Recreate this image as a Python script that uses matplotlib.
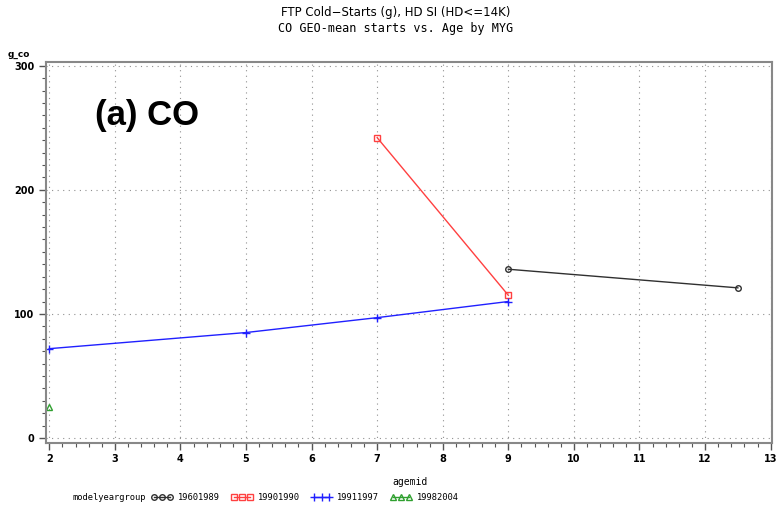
import matplotlib
matplotlib.use("Agg")
import matplotlib.pyplot as plt
from matplotlib.ticker import MultipleLocator

# data
grp_labels = ['19601989', '19901990', '19911997', '19982004']
age_6089 = [9, 12.5]
co_6089 = [136, 121]
age_9090 = [7, 9]
co_9090 = [242, 115]
age_9197 = [2, 5, 7, 9]
co_9197 = [72, 85, 97, 110]
age_9804 = [2]
co_9804 = [25]

fig = plt.figure(figsize=(7.76, 5.11), dpi=100)
ax = fig.add_axes([0.0593, 0.1331, 0.9355, 0.7456])

ax.plot(age_6089, co_6089, color='#303030', lw=1, marker='o', ms=4, mfc='none', label=grp_labels[0])
ax.plot(age_9090, co_9090, color='#ff4040', lw=1, marker='s', ms=4, mfc='none', label=grp_labels[1])
ax.plot(age_9197, co_9197, color='#2020ff', lw=1, marker='+', ms=6, label=grp_labels[2])
ax.plot(age_9804, co_9804, color='#30a030', lw=1, marker='^', ms=4, mfc='none', label=grp_labels[3])

ax.set_xlim(1.95, 13.02)
ax.set_ylim(-4, 303)
ax.xaxis.set_major_locator(MultipleLocator(1))
ax.xaxis.set_minor_locator(MultipleLocator(0.2))
ax.yaxis.set_major_locator(MultipleLocator(100))
ax.yaxis.set_minor_locator(MultipleLocator(10))
ax.grid(True, which='major', ls=(0, (1, 4)), color='#909090', lw=0.8)

for s in ax.spines.values():
    s.set_color('#888888')
    s.set_linewidth(1.5)
ax.tick_params(which='major', length=5, color='#555555', labelsize=7, width=1)
ax.tick_params(which='minor', length=3, color='#555555', width=0.8)
for lab in ax.get_xticklabels() + ax.get_yticklabels():
    lab.set_fontweight('bold')
ax.tick_params(axis='x', pad=3)

ax.text(0.067, 0.86, '(a) CO', transform=ax.transAxes, fontsize=25, fontweight='bold',
        family='Liberation Sans', va='center')

fig.text(0.51, 0.975, 'FTP Cold\u2212Starts (g), HD SI (HD<=14K)', ha='center', va='center',
         fontsize=8.5, family='Liberation Sans Narrow')
fig.text(0.51, 0.945, 'CO GEO-mean starts vs. Age by MYG', ha='center', va='center',
         fontsize=8.5, family='DejaVu Sans Mono')
fig.text(0.01, 0.893, 'g_co', fontsize=6.5, fontweight='bold', va='center')
fig.text(0.528, 0.057, 'agemid', ha='center', va='center', fontsize=7, family='DejaVu Sans Mono')
fig.text(0.093, 0.027, 'modelyeargroup', va='center', fontsize=6.3, family='DejaVu Sans Mono')

fig.legend(loc='center left', bbox_to_anchor=(0.19, 0.027), ncol=4, frameon=False,
           numpoints=3, handlelength=2.4, columnspacing=1.3, borderpad=0,
           handletextpad=0.6, prop={'family': 'DejaVu Sans Mono', 'size': 6.3})

fig.savefig('out.png', dpi=100)
